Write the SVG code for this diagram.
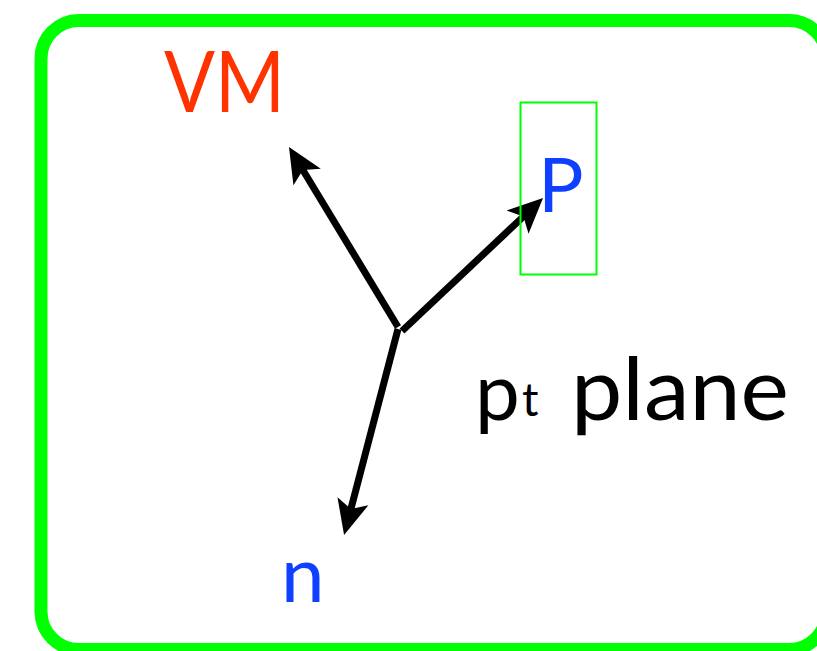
<svg xmlns="http://www.w3.org/2000/svg" width="817" height="651" viewBox="0 0 817 651">
<style>
  .frame{fill:none;stroke:#00ff00;stroke-width:13}
  .box{fill:none;stroke:#00ff00;stroke-width:2}
  .arr{stroke:#000;stroke-width:7;fill:none;marker-end:url(#head)}
  .lbl{font-family:Lato,"Open Sans","DejaVu Sans",sans-serif}
</style>
<defs>
  <marker id="head" markerUnits="userSpaceOnUse" markerWidth="40" markerHeight="40" viewBox="0 -20 40 40" refX="12" refY="0" orient="auto">
    <path d="M35,0 L0,-16 L8,0 L0,16 Z" fill="#000"/>
  </marker>
</defs>
<rect width="817" height="651" fill="#fff"/>
<g id="frame"><rect class="frame" x="41" y="20.5" width="786" height="629" rx="38" ry="38"/></g>
<g id="connectors">
  <line class="arr" x1="398" y1="327" x2="300.9" y2="166.7"/>
  <line class="arr" x1="402" y1="331" x2="526.3" y2="213.8"/>
  <line class="arr" x1="398" y1="329" x2="349.9" y2="512.8"/>
</g>
<g id="node-VM"><text class="lbl" x="164" y="112" font-size="86" fill="#ff3300" textLength="121" lengthAdjust="spacingAndGlyphs">VM</text></g>
<g id="node-P"><rect class="box" x="520.5" y="102.5" width="76" height="172"/><text class="lbl" x="538" y="212" font-size="76" fill="#1040ff">P</text></g>
<g id="node-n"><text class="lbl" x="281" y="602" font-size="78" fill="#1040ff">n</text></g>
<g id="label-plane"><text class="lbl" x="475" y="420" font-size="80" fill="#000">p</text><text class="lbl" x="522" y="416" font-size="46" fill="#000">t</text><text class="lbl" x="571" y="420" font-size="88" fill="#000" textLength="218" lengthAdjust="spacingAndGlyphs">plane</text></g>
</svg>
